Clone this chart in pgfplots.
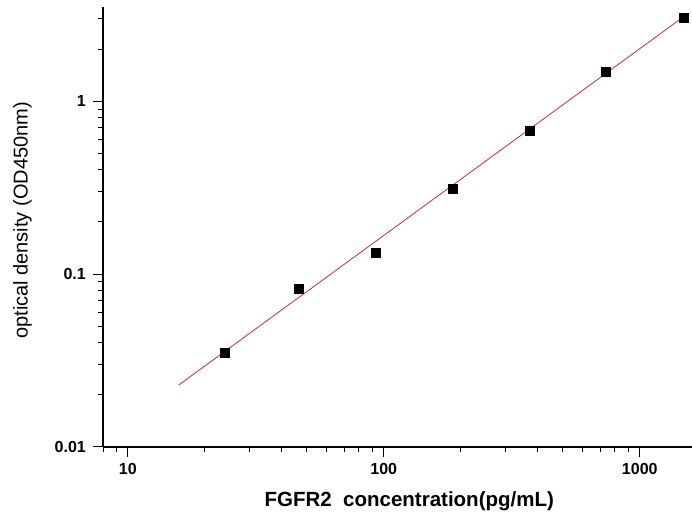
\documentclass[border=0pt]{standalone}
\usepackage{fontspec}
\setmainfont{Liberation Sans}
\usepackage{pgfplots}
\pgfplotsset{compat=1.18}

\begin{document}
\begin{tikzpicture}
    \begin{axis}[
        xmode=log, ymode=log,
        scale only axis,
        width=589pt, height=440pt,
        xmin=8, xmax=1600,
        ymin=0.01, ymax=3.5,
        axis x line=bottom, axis y line=left,
        axis line style={-, line width=1.1pt},
        tick align=outside,
        major tick length=10pt, minor tick length=5pt,
        every tick/.style={black, line width=1pt},
        xtick={10,100,1000}, xticklabels={10,100,1000},
        ytick={0.01,0.1,1}, yticklabels={0.01,0.1,1},
        minor xtick={8,9,20,30,40,50,60,70,80,90,200,300,400,500,600,700,800,900},
        minor ytick={0.02,0.03,0.04,0.05,0.06,0.07,0.08,0.09,0.2,0.3,0.4,0.5,0.6,0.7,0.8,0.9,2,3},
        ticklabel style={font=\bfseries\fontsize{16}{16}\selectfont},
        xticklabel style={inner sep=0pt, yshift=-6pt},
        yticklabel style={inner sep=0pt, xshift=-7pt},
        xlabel={\bfseries FGFR2\ \ concentration(pg/mL)},
        ylabel={optical density (OD450nm)},
        xlabel style={font=\fontsize{20.5}{20.5}\selectfont, at={(axis description cs:0.52,0)}, anchor=base, yshift=-60pt, inner sep=0pt},
        ylabel style={font=\fontsize{20}{20}\selectfont, at={(axis description cs:-0.153,0.515)}, anchor=north, inner sep=0pt, rotate=0},
        clip=false,
    ]
    % fitted line
    \addplot[color={rgb,255:red,205;green,45;blue,45}, line width=0.8pt] coordinates {
        (15.8,0.0228) (1535,3.19)
    };
    % standards
    \addplot[only marks, mark=square*, mark size=4.5pt, black] coordinates {
        (23.8,0.0353) (46.6,0.0827) (92.7,0.133) (186,0.313) (370,0.675) (738,1.48) (1483,3.03)
    };
    \end{axis}
    \pgfresetboundingbox
    \useasboundingbox ([xshift=-103pt,yshift=-66pt]current axis.south west) rectangle ([yshift=7pt]current axis.north east);
\end{tikzpicture}
\end{document}
